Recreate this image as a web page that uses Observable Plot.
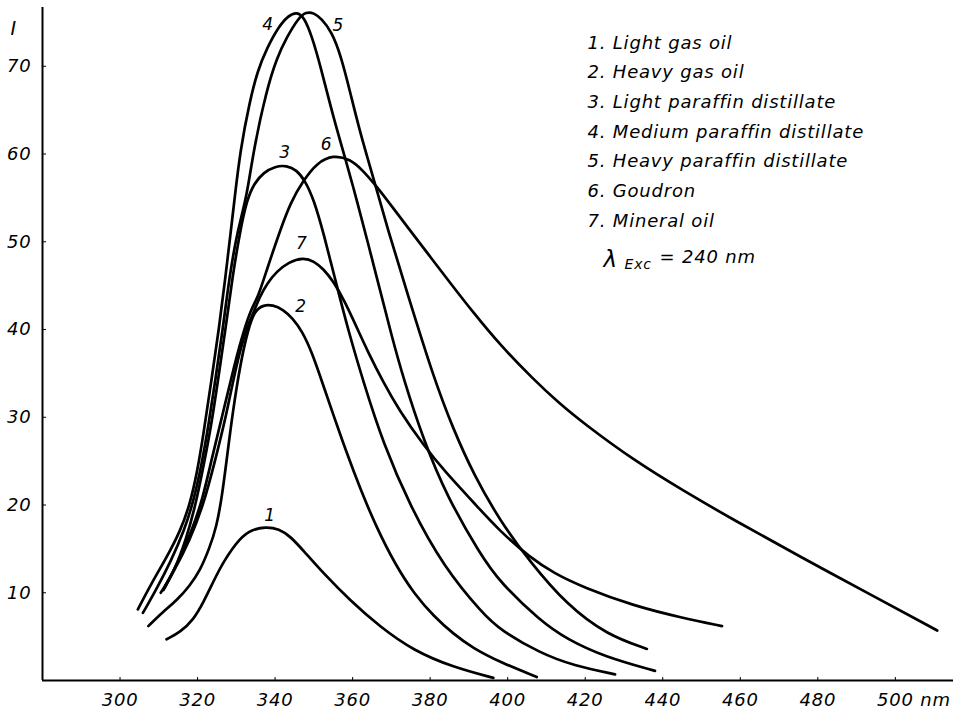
<!DOCTYPE html>
<html>
<head>
<meta charset="utf-8">
<script src="https://cdn.jsdelivr.net/npm/d3@7"></script>
<script src="https://cdn.jsdelivr.net/npm/@observablehq/plot@0.6"></script>
<style>
  html, body { margin: 0; padding: 0; background: #fff; }
  #chart { width: 961px; height: 714px; overflow: hidden; }
  #chart svg text { letter-spacing: 0.8px; }
</style>
</head>
<body>
<div id="chart"></div>
<script>
// ---- data (wavelength nm, intensity I) ----
const wavelengthTicks = [300, 320, 340, 360, 380, 400, 420, 440, 460, 480, 500];
const intensityTicks = [10, 20, 30, 40, 50, 60, 70];
const unitLabel = "nm";
const axisTitle = "I";

const seriesNames = [
  "1. Light gas oil",
  "2. Heavy gas oil",
  "3. Light paraffin distillate",
  "4. Medium paraffin distillate",
  "5. Heavy paraffin distillate",
  "6. Goudron",
  "7. Mineral oil"
];
const curveNumbers = ["1", "2", "3", "4", "5", "6", "7"];
const excitationNote = ["λ", "Exc", "= 240 nm"];

const lightGasOil = [[312,4.7],[315.5,5.5],[318.9,6.9],[321.5,8.9],[324.1,11.3],[326.7,13.6],[331,16.3],[334,17.2],[337.5,17.5],[341,17.3],[344,16.4],[347.3,14.8],[352.5,12.2],[359.4,9.1],[367.1,6.1],[375.7,3.4],[386,1.5],[396.3,0.3]];
const heavyGasOil = [[307.3,6.2],[311,7.8],[314.6,9.1],[318,10.8],[320.6,12.5],[323,15],[324.9,17.5],[326.3,21],[327.5,25.1],[329,30.4],[331,36],[333,40],[334.8,42.2],[337,42.8],[339.4,42.8],[342,42.3],[344.5,41.3],[347,39.8],[349.5,37.4],[352,34.2],[355,30.3],[358.5,25.9],[362,21.8],[366,17.6],[371,13.2],[376,9.8],[381,7.3],[386,5.3],[391,3.7],[398,2.1],[407.5,0.4]];
const lightParaffin = [[311.2,10.3],[314,12.5],[317,16],[319.5,20],[321.8,25],[323.5,29],[325.2,34],[327.2,40],[329,46],[331,51.3],[332.7,54.7],[334.5,56.6],[337,57.9],[340,58.6],[343,58.7],[345.5,58.2],[347.7,57],[350,54.8],[352.5,51],[355.9,45],[359,39.7],[362.8,34],[367.9,27],[374.8,19.9],[383.4,13],[393.8,7.5],[398,5.8],[408.4,3.1],[417,1.7],[427.7,0.7]];
const mediumParaffin = [[304.6,8.1],[308,11],[312,14],[315.5,17],[318,20],[320,24],[321.5,28],[323.5,34],[325.5,40],[327.2,46],[328.6,51.3],[329.5,54.7],[331,60.4],[333.5,66.1],[335.5,69.5],[337.8,72],[341,74.6],[343.5,75.8],[345.6,76.2],[347.5,75.6],[349.5,73.4],[351.6,70.2],[355,64.2],[358.5,58.9],[361.1,54.7],[364,49.8],[367,44.6],[370,39.4],[373.1,34.4],[378.3,27.4],[384.3,21],[392.9,14.4],[398,11.2],[408.4,6.8],[415.3,4.7],[425,2.7],[438,1.1]];
const heavyParaffin = [[305.9,7.7],[309.5,10.5],[313,13.5],[316.5,17],[319,20.5],[321,24.5],[322.8,29],[324.5,34],[326.5,40],[328.2,46],[330.3,51.3],[332.7,55.1],[334.4,60.4],[337.8,67.3],[340.5,71],[343,73.3],[346,75.5],[348,76.2],[350,76.1],[352,75.4],[354.5,74],[357,71.2],[359.5,66.8],[361.9,62.5],[365.4,57.2],[369,51.5],[374,44.3],[380.9,34.5],[386,28.6],[391.2,23.5],[398,18.2],[405.8,13.5],[415.3,8.6],[425.6,5.2],[435.9,3.6]];
const goudron = [[311.5,10.6],[315,13.5],[318.5,17],[321.5,21],[323.5,25],[326.5,30.4],[329.5,36],[332,40],[334,42.5],[335.7,43.8],[338,47],[341.3,51.3],[344,54.5],[347.3,57],[350.8,59],[355,59.9],[359.4,59.4],[362.5,58.2],[366.2,56.3],[370,54.1],[374.8,51.3],[380,48.3],[385.2,45.3],[391,42],[398.1,38.2],[406.7,34.3],[413,31.7],[419.6,29.3],[432.5,25.1],[445.4,21.6],[458.3,18.3],[475.5,14.1],[494.4,9.6],[510.8,5.7]];
const mineralOil = [[310.5,10],[314,12.5],[318,16],[321.5,20],[324.5,25],[327.5,30.4],[330,36],[332.5,40],[334.5,42],[336,43.7],[338,45.3],[340.4,46.6],[343.5,47.7],[347.3,48.2],[350,47.8],[352.5,46.9],[355,45.5],[358,43.2],[361,40.3],[364,37.4],[367.9,34],[372,30.8],[378.3,26.8],[384,23.7],[391.2,20.3],[398,17],[405.8,14],[412,12.2],[419.6,10.6],[432.5,8.5],[445.4,7.1],[455.3,6.2]];

// where each curve number is written (nm, I)
const curveNumberAnchors = [[338.7,18.8],[346.7,42.6],[342.6,60.2],[338.2,74.8],[356.3,74.7],[353.3,61.1],[346.9,49.8]];

const allCurves = [lightGasOil, heavyGasOil, lightParaffin, mediumParaffin, heavyParaffin, goudron, mineralOil];

const table = allCurves.flatMap((pts, i) => pts.map(([nm, I]) => ({series: seriesNames[i], nm, I})));
const numberTable = curveNumbers.map((t, i) => ({t, nm: curveNumberAnchors[i][0], I: curveNumberAnchors[i][1]}));

const FONT = "'DejaVu Sans', sans-serif";

const chart = Plot.plot({
  width: 961,
  height: 714,
  marginLeft: 42,
  marginRight: 8,
  marginTop: 7,
  marginBottom: 34,
  x: {domain: [280, 515]},
  y: {domain: [0, 76.7]},
  style: {fontFamily: FONT, fontStyle: "italic", fontSize: "18px", background: "white", color: "black"},
  marks: [
    Plot.ruleY([0], {stroke: "black", strokeWidth: 2}),
    Plot.ruleX([280], {stroke: "black", strokeWidth: 2}),
    Plot.axisX({ticks: wavelengthTicks, tickSize: -3, text: null, label: null, stroke: "black"}),
    Plot.axisX({ticks: wavelengthTicks, tickSize: 0, tickPadding: 13, label: null, fill: "black"}),
    Plot.axisY({ticks: intensityTicks, tickSize: -4, text: null, label: null, stroke: "black"}),
    Plot.axisY({ticks: intensityTicks, tickSize: 0, tickPadding: 11, label: null, fill: "black"}),
    Plot.text([unitLabel], {x: wavelengthTicks[wavelengthTicks.length - 1], y: 0, dx: 25, dy: 20, textAnchor: "start", fill: "black"}),
    Plot.text([axisTitle], {frameAnchor: "top-left", dx: -32, dy: 14, fill: "black", fontSize: 19}),
    Plot.line(table, {x: "nm", y: "I", z: "series", curve: "basis", stroke: "black", strokeWidth: 2.7, strokeLinejoin: "round", strokeLinecap: "round"}),
    Plot.text(numberTable, {x: "nm", y: "I", text: "t", fill: "black", fontSize: 17}),
    Plot.text([seriesNames.join("\n")], {frameAnchor: "top-left", dx: 545, dy: 20, textAnchor: "start", lineAnchor: "top", lineHeight: 1.65, fill: "black", fontSize: 18}),
    Plot.text([excitationNote[0]], {frameAnchor: "top-left", dx: 561, dy: 243, textAnchor: "start", fill: "black", fontSize: 23}),
    Plot.text([excitationNote[1]], {frameAnchor: "top-left", dx: 582, dy: 252, textAnchor: "start", fill: "black", fontSize: 14}),
    Plot.text([excitationNote[2]], {frameAnchor: "top-left", dx: 617, dy: 243, textAnchor: "start", fill: "black", fontSize: 18})
  ]
});
document.getElementById("chart").appendChild(chart);
</script>
</body>
</html>
